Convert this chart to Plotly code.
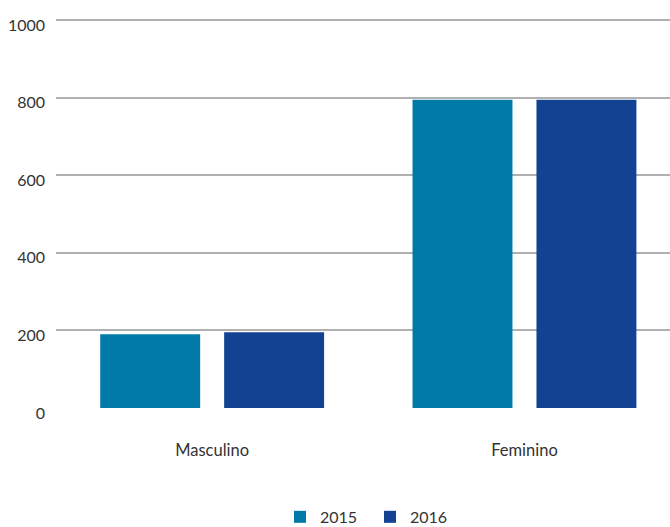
import plotly.graph_objects as go

categories = ["Masculino", "Feminino"]
years = ["2015", "2016"]
values_2015 = [190, 795]
values_2016 = [195, 795]
colors = ["#007BA7", "#134293"]
y_ticks = [0, 200, 400, 600, 800, 1000]

FONT = "Lato, 'Open Sans', sans-serif"

fig = go.Figure()
for name, vals, color, offset in zip(years, [values_2015, values_2016], colors, [-0.3584, 0.0384]):
    fig.add_trace(go.Bar(
        x=categories, y=vals, name=name,
        marker=dict(color=color, line=dict(width=0)),
        width=0.32, offset=offset,
    ))

fig.update_layout(
    width=670, height=527,
    margin=dict(l=56, r=0, t=19, b=119, autoexpand=False),
    paper_bgcolor="white", plot_bgcolor="white",
    font=dict(family=FONT, size=15, color="#333333"),
    barmode="group",
    showlegend=True,
    legend=dict(
        orientation="h", x=(280 - 56) / 614, xanchor="left", y=-0.28, yanchor="middle",
        font=dict(size=16, color="#333333"), entrywidth=45, entrywidthmode="pixels",
        itemsizing="constant", borderwidth=0,
    ),
    xaxis=dict(
        range=[-0.5, 1.466], showgrid=False, showline=False, zeroline=False,
        ticks="", ticklabelstandoff=30, automargin=False,
        tickfont=dict(size=16.5, color="#333333"),
    ),
    yaxis=dict(
        range=[0, 1003], tickvals=y_ticks, showgrid=True, gridcolor="#b0b0b0",
        gridwidth=1.5, zeroline=False, showline=False, ticks="", automargin=False,
        ticklabelstandoff=10, ticklabelshift=5,
        tickfont=dict(size=16, color="#333333"),
    ),
)

fig.write_html("out.html")
